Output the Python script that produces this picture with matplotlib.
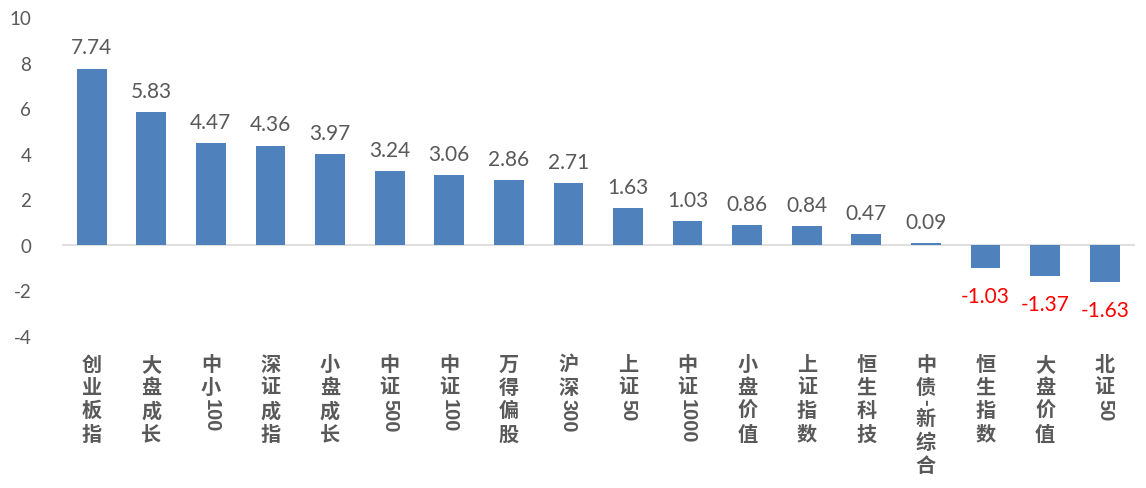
import matplotlib
matplotlib.use("Agg")
import matplotlib.pyplot as plt

names = ["创业板指", "大盘成长", "中小100", "深证成指", "小盘成长", "中证500", "中证100",
         "万得偏股", "沪深300", "上证50", "中证1000", "小盘价值", "上证指数", "恒生科技",
         "中债-新综合", "恒生指数", "大盘价值", "北证50"]
values = [7.74, 5.83, 4.47, 4.36, 3.97, 3.24, 3.06, 2.86, 2.71, 1.63, 1.03, 0.86, 0.84,
          0.47, 0.09, -1.03, -1.37, -1.63]
yticks = [-4, -2, 0, 2, 4, 6, 8, 10]

grey = "#595959"
cjk = ["Noto Sans CJK SC", "DejaVu Sans"]
num = ["Lato", "DejaVu Sans"]
lat = ["Liberation Sans", "DejaVu Sans"]

fig = plt.figure(figsize=(11.46, 4.89), dpi=100)
ax = fig.add_axes([0.054, 0.311, 0.936, 0.652])

x = list(range(len(values)))
ax.bar(x, values, width=0.5, color="#4F81BD", zorder=2)
ax.axhline(0, color="#D9D9D9", lw=1.2, zorder=1)
ax.set_xlim(-0.5, len(values) - 0.5)
ax.set_ylim(-4, 10)
ax.set_yticks(yticks)
ax.set_yticklabels([str(t) for t in yticks], fontsize=13.5, color=grey, family=num)
ax.tick_params(axis="y", length=0, pad=22)
ax.set_xticks([])
for s in ax.spines.values():
    s.set_visible(False)

# value labels, red for negatives
for i, v in enumerate(values):
    if v >= 0:
        ax.annotate(f"{v:.2f}", (i, v), xytext=(0, 8), textcoords="offset points",
                    ha="center", va="bottom", fontsize=15, color=grey, family=num)
    else:
        ax.annotate(f"{v:.2f}", (i, v), xytext=(0, -13), textcoords="offset points",
                    ha="center", va="top", fontsize=15, color="#FF0000", family=num)

# vertical category labels: CJK upright, ascii runs rotated
fig.canvas.draw()
rend = fig.canvas.get_renderer()
pitch = 16.8
for i, name in enumerate(names):
    runs = []
    for ch in name:
        if ord(ch) < 128 and runs and runs[-1][1]:
            runs[-1][0] += ch
        else:
            runs.append([ch, ord(ch) < 128])
    off = 12
    for txt, asc in runs:
        if asc:
            t = ax.annotate(txt, (i, 0), xycoords=("data", "axes fraction"),
                            xytext=(0, -off + 1), textcoords="offset points",
                            ha="center", va="top", rotation=270, fontsize=14.5,
                            color=grey, family=lat, fontweight="bold")
            h = t.get_window_extent(rend).height * 72 / fig.dpi
            off += h + 1
        else:
            ax.annotate(txt, (i, 0), xycoords=("data", "axes fraction"),
                        xytext=(0, -off), textcoords="offset points",
                        ha="center", va="top", fontsize=14.5,
                        color=grey, family=cjk, fontweight="bold")
            off += pitch

fig.savefig("out.png", dpi=100)
